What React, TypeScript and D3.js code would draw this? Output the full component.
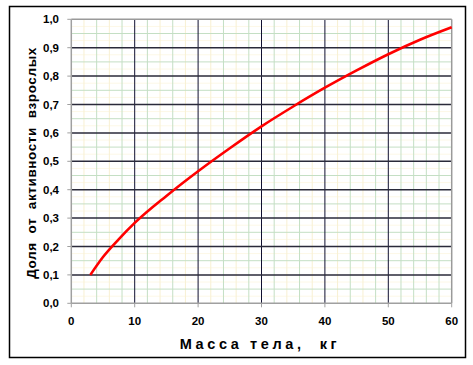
import React from "react";
import * as d3 from "d3";

const massKg = [3, 5, 7.5, 10, 15, 20, 25, 30, 35, 40, 45, 50, 55, 60];
const fraction = [0.1, 0.163, 0.226, 0.283, 0.378, 0.465, 0.546, 0.623, 0.693, 0.759, 0.82, 0.877, 0.928, 0.972];
const xTicks = [0, 10, 20, 30, 40, 50, 60];
const yTicks = [0, 0.1, 0.2, 0.3, 0.4, 0.5, 0.6, 0.7, 0.8, 0.9, 1.0];
const xMinor = d3.range(2, 60, 2).filter((v) => v % 10 !== 0);
const yMinorGreen = d3.range(0.05, 1, 0.1);
const yMinorYellow = d3.range(0.025, 1, 0.05);

export default function App() {
  const W = 473, H = 365;
  const x = d3.scaleLinear().domain([0, 60]).range([71.3, 451.7]);
  const y = d3.scaleLinear().domain([0, 1]).range([303.3, 19.3]);
  const line = d3.line<number>().x((_, i) => x(massKg[i])).y((d) => y(d)).curve(d3.curveMonotoneX);
  const font = "'Liberation Sans', Arial, sans-serif";
  return (
    <svg width={W} height={H} style={{ position: "absolute", left: 0, top: 0 }}>
      <rect x={0} y={0} width={W} height={H} fill="#fff" />
      <rect x={9.5} y={6.5} width={456} height={351} fill="none" stroke="#000" strokeWidth={1.5} />
      {yMinorYellow.map((v) => (
        <line key={"yy" + v} x1={x(0)} x2={x(60)} y1={y(v)} y2={y(v)} stroke="#fdf8e6" strokeWidth={1} />
      ))}
      {xMinor.map((v) => (
        <line key={"xm" + v} x1={x(v)} x2={x(v)} y1={y(0)} y2={y(1)} stroke={v % 4 === 0 || v > 50 ? "#c4dfc4" : "#f8f0d2"} strokeWidth={1} />
      ))}
      {yMinorGreen.map((v) => (
        <line key={"yg" + v} x1={x(0)} x2={x(60)} y1={y(v)} y2={y(v)} stroke="#c4dfc4" strokeWidth={1} />
      ))}
      {xTicks.slice(1, -1).map((v) => (
        <line key={"xg" + v} x1={x(v)} x2={x(v)} y1={y(0)} y2={y(1)} stroke="#101030" strokeWidth={1} />
      ))}
      {yTicks.slice(1, -1).map((v) => (
        <line key={"yg" + v} x1={x(0)} x2={x(60)} y1={y(v)} y2={y(v)} stroke="#2a2a3a" strokeWidth={1.5} />
      ))}
      <line x1={x(0)} x2={x(60)} y1={y(1)} y2={y(1)} stroke="#9a9a9a" strokeWidth={1.5} />
      <line x1={x(60)} x2={x(60)} y1={y(0)} y2={y(1)} stroke="#9a9a9a" strokeWidth={1.5} />
      <line x1={x(0)} x2={x(0)} y1={y(0)} y2={y(1)} stroke="#a0a0a0" strokeWidth={1.5} />
      <line x1={x(0)} x2={x(60)} y1={y(0)} y2={y(0)} stroke="#a0a0a0" strokeWidth={1.5} />
      {yTicks.map((v) => (
        <g key={"yt" + v}>
          <line x1={x(0) - 4} x2={x(0)} y1={y(v)} y2={y(v)} stroke="#a0a0a0" strokeWidth={1} />
          <text x={59} y={y(v) + 4} textAnchor="end" fontFamily={font} fontWeight="bold" fontSize={11.5} fill="#000">
            {d3.format(".1f")(v).replace(".", ",")}
          </text>
        </g>
      ))}
      {xTicks.map((v) => (
        <g key={"xt" + v}>
          <line x1={x(v)} x2={x(v)} y1={y(0)} y2={y(0) + 4} stroke="#a0a0a0" strokeWidth={1} />
          <text x={x(v)} y={325} textAnchor="middle" fontFamily={font} fontWeight="bold" fontSize={11.5} fill="#000">
            {v}
          </text>
        </g>
      ))}
      <path d={line(fraction) || ""} fill="none" stroke="#ff0000" strokeWidth={2.6} />
      <text x={260} y={349} textAnchor="middle" fontFamily={font} fontWeight="bold" fontSize={14.5} letterSpacing={3.6} fill="#000" style={{ whiteSpace: "pre" }}>
        {"Масса тела,  кг"}
      </text>
      <text transform={`translate(36,163) rotate(-90)`} textAnchor="middle" fontFamily={font} fontWeight="bold" fontSize={13.5} letterSpacing={0.6} fill="#000" style={{ whiteSpace: "pre" }}>
        {"Доля  от  активности  взрослых"}
      </text>
    </svg>
  );
}
